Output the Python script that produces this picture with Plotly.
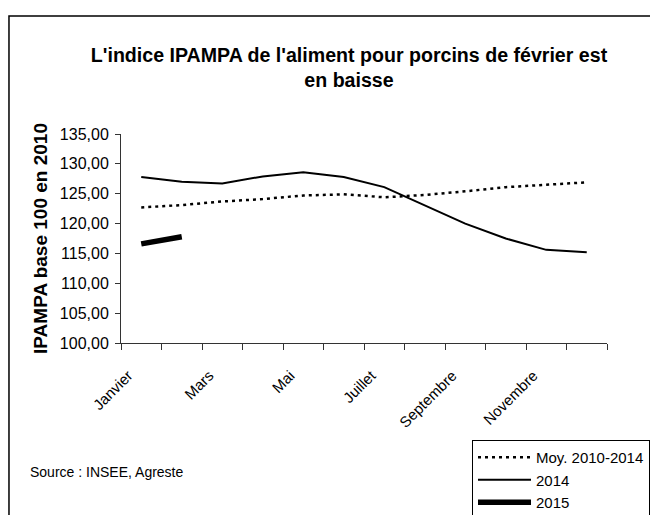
import plotly.graph_objects as go

# -----------------------------------------------------
# Data
# -----------------------------------------------------

months = [
    "Janvier", "Février", "Mars", "Avril", "Mai", "Juin",
    "Juillet", "Août", "Septembre", "Octobre", "Novembre", "Décembre",
]

moy_2010_2014 = [122.7, 123.1, 123.7, 124.1, 124.7, 124.9,
                 124.4, 124.8, 125.4, 126.1, 126.5, 126.9]

y2014 = [127.8, 127.0, 126.7, 127.9, 128.6, 127.8,
         126.1, 123.0, 120.0, 117.5, 115.6, 115.2]

y2015 = [116.6, 117.8]

y_ticks = [100, 105, 110, 115, 120, 125, 130, 135]

x_idx = list(range(len(months)))

SANS = "Liberation Sans, Arial, sans-serif"
AXIS = "#333333"

fig = go.Figure()

fig.add_trace(go.Scatter(
    x=x_idx,
    y=moy_2010_2014,
    mode="lines",
    name="Moy. 2010-2014",
    line=dict(color="black", width=2.5, dash="3px,4px"),
))

fig.add_trace(go.Scatter(
    x=x_idx,
    y=y2014,
    mode="lines",
    name="2014",
    line=dict(color="black", width=2),
))

fig.add_trace(go.Scatter(
    x=x_idx[:len(y2015)],
    y=y2015,
    mode="lines",
    name="2015",
    line=dict(color="black", width=5.5),
))

# outer frame of the chart object
fig.add_shape(
    type="rect",
    xref="paper", yref="paper",
    x0=-0.2305, x1=1.15,
    y0=-0.9, y1=1.5646,
    line=dict(color="black", width=1.5),
)

fig.add_annotation(
    text="Source : INSEE, Agreste",
    xref="paper", yref="paper",
    x=(28 - 121) / 486, y=(343 - 472) / 209,
    xanchor="left", yanchor="middle",
    showarrow=False,
    font=dict(family=SANS, size=14, color="black"),
)

fig.update_layout(
    width=658,
    height=515,
    paper_bgcolor="white",
    plot_bgcolor="white",
    separators=", ",
    showlegend=True,
    margin=dict(l=113, r=59, t=126, b=180, autoexpand=False),
    title=dict(
        text="L'indice IPAMPA de l'aliment pour porcins de février est<br>en baisse",
        x=341 / 658,
        xanchor="center",
        y=1 - 54 / 515,
        yanchor="top",
        font=dict(family=SANS, size=19.6, color="black", weight="bold"),
    ),
    legend=dict(
        x=(472 - 121) / 486,
        y=(343 - 440) / 209,
        xanchor="left",
        yanchor="top",
        bgcolor="white",
        bordercolor="black",
        borderwidth=1,
        itemwidth=53,
        font=dict(family=SANS, size=15, color="black"),
    ),
)

fig.update_xaxes(
    range=[-0.5, 11.5],
    tickmode="array",
    tickvals=[i - 0.32 for i in x_idx[::2]],
    ticktext=months[::2],
    tickangle=-45,
    ticks="",
    ticklabelstandoff=17,
    tickfont=dict(family=SANS, size=15, color="black"),
    minor=dict(
        tickmode="array",
        tickvals=[i - 0.5 for i in range(len(months) + 1)],
        ticks="outside",
        ticklen=6,
        tickcolor=AXIS,
    ),
    showline=True,
    linecolor=AXIS,
    linewidth=1,
    showgrid=False,
    zeroline=False,
    automargin=False,
)

fig.update_yaxes(
    range=[100, 135],
    tickmode="array",
    tickvals=y_ticks,
    tickformat=".2f",
    ticks="outside",
    ticklen=5,
    tickcolor=AXIS,
    ticklabelstandoff=3,
    tickfont=dict(family=SANS, size=16, color="black"),
    showline=True,
    linecolor=AXIS,
    linewidth=1,
    showgrid=False,
    zeroline=False,
    automargin=False,
    title=dict(
        text="IPAMPA base 100 en 2010",
        standoff=7,
        font=dict(family=SANS, size=19, color="black", weight="bold"),
    ),
)

fig.write_html("out.html")
